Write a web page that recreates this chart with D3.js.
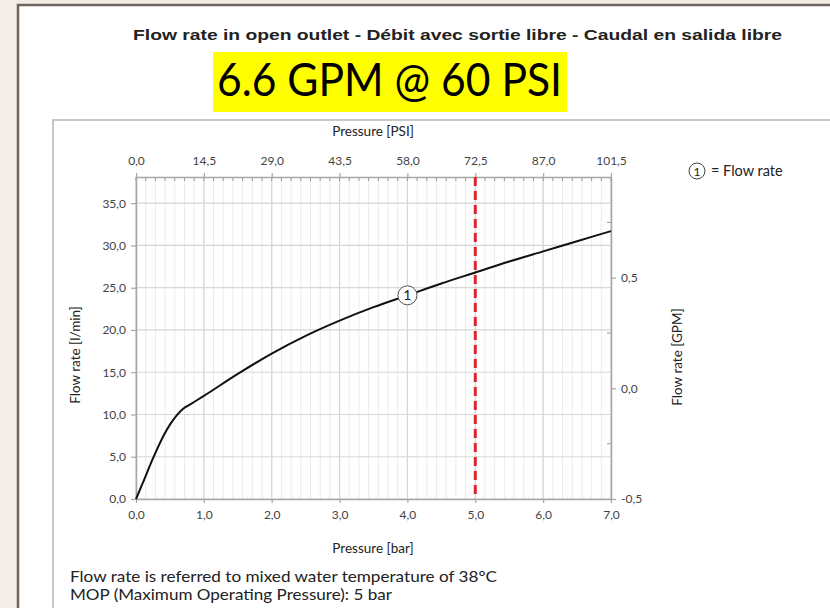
<!DOCTYPE html>
<html>
<head>
<meta charset="utf-8">
<script src="https://cdn.jsdelivr.net/npm/d3@7"></script>
<style>
  body { margin: 0; background: #f4ece6; }
  text { font-family: Lato, "Open Sans", sans-serif; fill: #333; }
</style>
</head>
<body>
<div id="chart"></div>
<script>
var width = 830,
    height = 608;

// flow curve (bar -> l/min)
var pressureBar = [0, 0.1, 0.25, 0.4, 0.5, 0.6, 0.7, 0.8, 1.0, 1.5, 2.0, 2.5, 3.0, 3.5, 4.0, 4.5, 5.0, 5.5, 6.0, 6.5, 7.0];
var flowLmin    = [0, 1.9, 4.8, 7.4, 8.8, 9.9, 10.7, 11.2, 12.2, 14.8, 17.2, 19.3, 21.1, 22.7, 24.1, 25.5, 26.8, 28.1, 29.3, 30.5, 31.7];

var barTicks = [0, 1, 2, 3, 4, 5, 6, 7];
var psiTicks = [0, 14.5, 29, 43.5, 58, 72.5, 87, 101.5];
var lminTicks = [0, 5, 10, 15, 20, 25, 30, 35];
var gpmTicks = [-0.5, 0, 0.5];
var gpmMinor = [-0.25, 0.25, 0.75];
var mopBar = 5;      // red dashed line
var labelAt = 4;     // circled "1" position

// plot box (note: "top" is taken by window.top)
var pL = 136, pR = 611, pT = 177, pB = 499;

// comma decimals, plain hyphen for minus
var fmt = function(v) { return d3.format(".1f")(v).replace(".", ",").replace("\u2212", "-"); };

var x = d3.scaleLinear().domain([0, 7]).range([pL, pR]);
var xPsi = d3.scaleLinear().domain([0, 101.5]).range([pL, pR]);
var y = d3.scaleLinear().domain([0, 38.1]).range([pB, pT]);
var yGpm = d3.scaleLinear().domain([-0.5, 0.955]).range([pB, pT]);

var svg = d3.select("#chart").append("svg")
  .attr("width", width)
  .attr("height", height);

// page frames
svg.append("rect").attr("x", 18).attr("y", 5).attr("width", 830).attr("height", 640)
  .style("fill", "#fff").style("stroke", "#6e6560").style("stroke-width", 2.5);
svg.append("rect").attr("x", 53).attr("y", 120).attr("width", 800).attr("height", 520)
  .style("fill", "#fff").style("stroke", "#c8c8c8").style("stroke-width", 2);

// headings
svg.append("text")
  .attr("x", 133).attr("y", 40)
  .attr("textLength", 649).attr("lengthAdjust", "spacingAndGlyphs")
  .style("font-family", "'Liberation Sans', Arial, sans-serif")
  .style("font-weight", "bold").style("font-size", "15px").style("fill", "#222")
  .text("Flow rate in open outlet - Débit avec sortie libre - Caudal en salida libre");

svg.append("rect").attr("x", 213).attr("y", 52).attr("width", 354).attr("height", 60)
  .style("fill", "#ffff00");
svg.append("text")
  .attr("x", 217).attr("y", 96)
  .attr("textLength", 345).attr("lengthAdjust", "spacingAndGlyphs")
  .style("font-size", "46px").style("fill", "#000")
  .text("6.6 GPM @ 60 PSI");

// minor vertical grid (7 per bar)
var minorX = d3.range(0, 49 + 1).map(function(i) { return i / 7; });
svg.append("g").selectAll("line").data(minorX).enter().append("line")
  .attr("x1", function(d) { return x(d); }).attr("x2", function(d) { return x(d); })
  .attr("y1", pT).attr("y2", pB)
  .style("stroke", "#ebebeb").style("stroke-width", 1);

// major grid
svg.append("g").selectAll("line").data(barTicks).enter().append("line")
  .attr("x1", function(d) { return x(d); }).attr("x2", function(d) { return x(d); })
  .attr("y1", pT).attr("y2", pB)
  .style("stroke", "#d6d6d6").style("stroke-width", 1.2);
svg.append("g").selectAll("line").data(lminTicks).enter().append("line")
  .attr("x1", pL).attr("x2", pR)
  .attr("y1", function(d) { return y(d); }).attr("y2", function(d) { return y(d); })
  .style("stroke", "#d6d6d6").style("stroke-width", 1.2);

// top minor ticks
svg.append("g").selectAll("line").data(minorX).enter().append("line")
  .attr("x1", function(d) { return x(d); }).attr("x2", function(d) { return x(d); })
  .attr("y1", pT).attr("y2", pT + 4)
  .style("stroke", "#999").style("stroke-width", 1);

// AXES
function styleAxis(g) {
  g.select(".domain").style("stroke", "#a6a6a6").style("stroke-width", 1.5);
  g.selectAll(".tick line").style("stroke", "#a6a6a6").style("stroke-width", 1.2);
  g.selectAll(".tick text").style("font-family", "Lato, sans-serif")
    .style("font-size", "12px").style("fill", "#444");
}

svg.append("g")
  .attr("transform", "translate(0," + pB + ")")
  .call(d3.axisBottom(x).tickValues(barTicks).tickFormat(fmt).tickSizeInner(4).tickSizeOuter(0).tickPadding(7))
  .call(styleAxis);

svg.append("g")
  .attr("transform", "translate(0," + pT + ")")
  .call(d3.axisTop(xPsi).tickValues(psiTicks).tickFormat(fmt).tickSizeInner(4).tickSizeOuter(0).tickPadding(8))
  .call(styleAxis);

svg.append("g")
  .attr("transform", "translate(" + pL + ",0)")
  .call(d3.axisLeft(y).tickValues(lminTicks).tickFormat(fmt).tickSizeInner(5).tickSizeOuter(0).tickPadding(5))
  .call(styleAxis);

svg.append("g")
  .attr("transform", "translate(" + pR + ",0)")
  .call(d3.axisRight(yGpm).tickValues(gpmTicks).tickFormat(fmt).tickSizeInner(5).tickSizeOuter(0).tickPadding(5))
  .call(styleAxis);

svg.append("g").selectAll("line").data(gpmMinor).enter().append("line")
  .attr("x1", pR - 4).attr("x2", pR)
  .attr("y1", function(d) { return yGpm(d); }).attr("y2", function(d) { return yGpm(d); })
  .style("stroke", "#a6a6a6").style("stroke-width", 1.2);

// axis titles
svg.append("text").attr("x", 373).attr("y", 136).attr("text-anchor", "middle")
  .style("font-size", "13.5px").style("fill", "#222").text("Pressure [PSI]");
svg.append("text").attr("x", 373).attr("y", 553).attr("text-anchor", "middle")
  .style("font-size", "13.5px").style("fill", "#222").text("Pressure [bar]");
svg.append("text").attr("transform", "translate(80,355) rotate(-90)").attr("text-anchor", "middle")
  .style("font-size", "13.5px").style("fill", "#222").text("Flow rate [l/min]");
svg.append("text").attr("transform", "translate(682,357) rotate(-90)").attr("text-anchor", "middle")
  .style("font-size", "13.5px").style("fill", "#222").text("Flow rate [GPM]");

// MOP line
svg.append("line")
  .attr("x1", x(mopBar)).attr("x2", x(mopBar))
  .attr("y1", pT).attr("y2", pB)
  .style("stroke", "#e0242e").style("stroke-width", 3)
  .style("stroke-dasharray", "9,5");

// flow curve
var pts = pressureBar.map(function(p, i) { return [p, flowLmin[i]]; });
svg.append("path")
  .datum(pts)
  .attr("d", d3.line().x(function(d) { return x(d[0]); }).y(function(d) { return y(d[1]); })
    .curve(d3.curveMonotoneX))
  .style("fill", "none").style("stroke", "#111").style("stroke-width", 2);

// circled label on curve
var labelFlow = flowLmin[pressureBar.indexOf(labelAt)];
svg.append("circle")
  .attr("cx", x(labelAt)).attr("cy", y(labelFlow)).attr("r", 9.5)
  .style("fill", "#fff").style("stroke", "#555").style("stroke-width", 1);
svg.append("text")
  .attr("x", x(labelAt)).attr("y", y(labelFlow) + 5).attr("text-anchor", "middle")
  .style("font-size", "14px").style("fill", "#222").text("1");

// legend
svg.append("circle").attr("cx", 697).attr("cy", 171).attr("r", 8)
  .style("fill", "#fff").style("stroke", "#444").style("stroke-width", 1);
svg.append("text").attr("x", 697).attr("y", 175.5).attr("text-anchor", "middle")
  .style("font-size", "12px").style("fill", "#222").text("1");
svg.append("text").attr("x", 711).attr("y", 176)
  .style("font-size", "14.5px").style("fill", "#222").text("= Flow rate");

// notes
svg.append("text").attr("x", 70).attr("y", 582)
  .attr("textLength", 427).attr("lengthAdjust", "spacingAndGlyphs")
  .style("font-size", "15px").style("fill", "#222")
  .text("Flow rate is referred to mixed water temperature of 38°C");
svg.append("text").attr("x", 70).attr("y", 600)
  .attr("textLength", 322).attr("lengthAdjust", "spacingAndGlyphs")
  .style("font-size", "15px").style("fill", "#222")
  .text("MOP (Maximum Operating Pressure): 5 bar");
</script>
</body>
</html>
